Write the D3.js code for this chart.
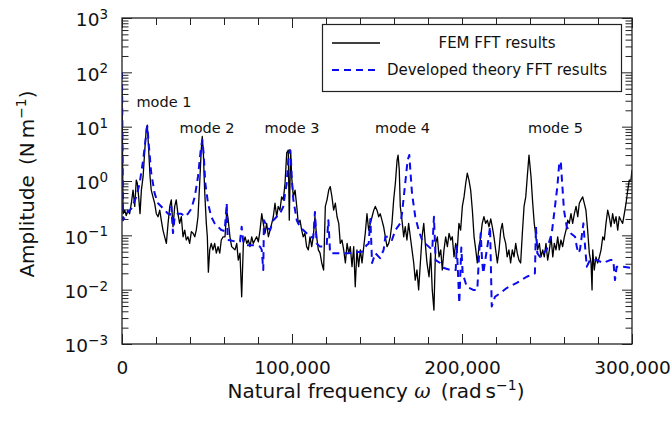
<!DOCTYPE html>
<html><head><meta charset="utf-8">
<script src="https://cdn.jsdelivr.net/npm/d3@7/dist/d3.min.js"></script>
<style>body{margin:0;background:#fff}svg{display:block}text{font-family:"DejaVu Sans",sans-serif;fill:#111}</style>
</head><body>
<svg id="c" width="671" height="424"></svg>
<script>
// ---- data (omega in rad/s, amplitude in N/m) ----
const femData = [[0,60],[600,0.25],[1600,0.29],[2500,0.23],[3500,0.29],[4500,0.25],[5500,0.39],[6500,0.68],[7500,0.34],[8400,1.04],[9000,0.91],[9800,0.51],[10600,0.25],[11400,0.68],[12400,1.2],[13400,3.7],[14300,9.3],[14900,10.7],[15700,3.7],[16500,1.2],[17200,0.68],[18200,0.51],[19200,0.39],[20200,0.25],[21200,0.22],[22200,0.29],[23100,0.19],[24100,0.125],[25100,0.094],[26100,0.071],[27100,0.166],[28100,0.34],[29000,0.45],[30000,0.144],[31000,0.34],[31900,0.45],[32900,0.25],[33900,0.166],[34900,0.22],[35900,0.094],[36900,0.125],[37800,0.082],[38800,0.094],[39800,0.071],[40800,0.117],[41800,0.109],[42800,0.094],[43700,0.125],[44700,0.22],[45700,0.91],[46600,3.7],[47200,6.6],[47800,3.7],[48600,0.68],[49600,0.166],[50200,0.094],[50800,0.021],[51600,0.054],[52500,0.071],[53500,0.054],[54500,0.071],[55500,0.047],[56500,0.062],[57500,0.047],[58400,0.082],[59500,0.094],[60600,0.094],[61600,0.29],[62500,0.19],[63500,0.094],[64500,0.062],[65500,0.058],[66500,0.054],[67500,0.071],[68400,0.035],[69400,0.047],[70400,0.0074],[71400,0.071],[72400,0.094],[73400,0.071],[74300,0.082],[75300,0.062],[76300,0.094],[77200,0.071],[78200,0.082],[79200,0.094],[80200,0.076],[81200,0.125],[82200,0.25],[83100,0.166],[84100,0.109],[85100,0.166],[86100,0.094],[87100,0.125],[88100,0.166],[89000,0.22],[90000,0.39],[91000,0.22],[91900,0.34],[92900,0.29],[93900,0.51],[94900,0.45],[95900,0.91],[96900,3.3],[97800,3.7],[98400,0.19],[99200,3.7],[99800,1.2],[100800,0.51],[101800,0.68],[102800,0.34],[103700,0.166],[104700,0.19],[105700,0.125],[106600,0.094],[107600,0.109],[108600,0.062],[109600,0.054],[110600,0.094],[111600,0.062],[112500,0.094],[113500,0.22],[114500,0.094],[115500,0.054],[116500,0.047],[117500,0.031],[118600,0.023],[119600,0.34],[120600,0.45],[121600,0.68],[122500,0.79],[123500,0.51],[124500,0.29],[125500,0.39],[126500,0.22],[127500,0.166],[128400,0.071],[129400,0.082],[130400,0.054],[131400,0.031],[132400,0.071],[133400,0.047],[134300,0.062],[135300,0.0265],[136300,0.062],[137200,0.0113],[138200,0.054],[139200,0.0265],[140200,0.054],[141200,0.031],[142200,0.062],[143100,0.109],[144100,0.25],[145100,0.125],[146100,0.166],[147100,0.22],[148100,0.29],[149000,0.34],[150000,0.29],[151000,0.22],[151900,0.25],[152900,0.19],[153900,0.144],[154900,0.094],[155900,0.062],[156900,0.071],[157800,0.094],[158800,0.166],[159800,0.45],[160800,0.91],[161800,2.4],[162400,3.0],[163100,1.6],[163700,0.34],[164700,0.19],[165700,0.094],[166600,0.144],[167600,0.082],[168600,0.166],[169600,0.094],[170600,0.054],[171600,0.031],[172500,0.015],[173500,0.023],[174500,0.0099],[175500,0.031],[176500,0.094],[177500,0.166],[178400,0.071],[179400,0.031],[180600,0.0173],[181600,0.047],[182500,0.0099],[183500,0.0042],[184500,0.071],[185500,0.094],[186500,0.040],[187500,0.054],[188400,0.023],[189400,0.054],[190400,0.094],[191400,0.062],[192400,0.109],[193400,0.082],[194300,0.094],[195300,0.040],[196300,0.071],[197200,0.054],[198200,0.166],[199200,0.125],[200200,0.34],[201200,0.51],[202200,0.91],[203100,1.39],[204100,1.04],[205100,0.68],[206100,0.29],[207100,0.094],[208100,0.054],[209000,0.031],[210000,0.062],[211000,0.094],[211900,0.166],[212900,0.22],[213900,0.166],[214900,0.19],[215900,0.144],[216900,0.2],[217800,0.144],[218800,0.094],[219800,0.054],[220800,0.031],[221800,0.054],[222800,0.125],[223700,0.166],[224700,0.094],[225700,0.071],[226600,0.040],[227600,0.054],[228600,0.031],[229600,0.054],[230600,0.040],[231600,0.071],[232500,0.047],[233500,0.035],[234500,0.031],[235500,0.109],[236500,0.34],[237500,0.51],[238400,1.2],[239400,3.0],[240600,1.2],[241600,0.39],[242500,0.166],[243500,0.094],[244500,0.054],[245500,0.071],[246500,0.040],[247500,0.054],[248400,0.040],[249400,0.071],[250400,0.035],[251400,0.054],[252400,0.094],[253400,0.040],[254300,0.071],[255300,0.054],[256300,0.094],[257200,0.054],[258200,0.082],[259200,0.062],[260200,0.094],[261200,0.125],[262200,0.19],[263100,0.166],[264100,0.25],[265100,0.166],[266100,0.25],[267100,0.34],[268100,0.22],[269000,0.39],[270000,0.45],[271000,0.51],[271900,0.39],[272900,0.29],[273900,0.125],[274900,0.047],[275900,0.031],[276500,0.0099],[276900,0.054],[277800,0.023],[278800,0.040],[279800,0.031],[280800,0.040],[281800,0.054],[282800,0.094],[283700,0.082],[284700,0.166],[285700,0.29],[286600,0.22],[287600,0.144],[288600,0.25],[289600,0.166],[290600,0.22],[291600,0.125],[292500,0.22],[293500,0.19],[294500,0.166],[295500,0.25],[296500,0.39],[297500,0.68],[298400,1.04],[299400,1.04],[300000,1.6]];

const theoryData = [[0,100],[600,0.19],[2500,0.25],[5500,0.31],[8400,0.51],[10400,0.91],[12400,2.4],[14300,7.5],[14900,10.2],[15700,4.9],[17200,1.39],[19200,0.59],[21200,0.39],[23100,0.34],[25100,0.29],[27100,0.25],[28200,0.24],[29000,0.34],[30000,0.11],[31000,0.22],[32900,0.25],[34900,0.25],[36900,0.22],[38800,0.25],[40800,0.31],[42800,0.51],[44700,1.2],[46300,3.7],[47200,5.7],[48000,3.3],[49000,0.91],[50600,0.39],[52500,0.22],[54500,0.166],[56500,0.144],[58400,0.125],[60400,0.12],[61600,0.39],[62200,0.082],[64500,0.08],[66500,0.077],[69400,0.077],[70400,0.144],[71400,0.071],[73400,0.066],[77200,0.066],[81200,0.062],[82200,0.054],[83100,0.023],[83500,0.19],[85100,0.144],[87100,0.125],[89000,0.19],[91000,0.22],[92900,0.25],[94900,0.34],[95900,0.59],[96900,0.91],[97800,2.4],[98800,3.7],[99400,2.4],[99800,1.2],[100800,0.45],[102800,0.19],[104700,0.144],[106600,0.125],[108600,0.109],[110600,0.094],[112500,0.09],[113500,0.27],[114500,0.071],[116500,0.062],[118400,0.062],[120400,0.066],[121400,0.19],[122400,0.047],[125500,0.047],[133400,0.047],[141200,0.05],[143900,0.066],[145100,0.07],[146100,0.2],[147100,0.031],[149000,0.047],[151800,0.038],[153900,0.054],[154900,0.094],[156900,0.094],[158800,0.082],[160800,0.125],[163700,0.166],[164700,0.25],[166600,0.91],[168000,2.4],[169000,3.0],[169600,1.6],[170600,0.59],[172500,0.22],[174500,0.125],[176500,0.082],[178400,0.071],[180400,0.062],[182500,0.054],[183500,0.22],[184500,0.035],[187100,0.031],[189400,0.025],[193400,0.023],[196300,0.023],[196900,0.062],[197400,0.03],[198400,0.0056],[199600,0.06],[200400,0.02],[202800,0.0113],[206600,0.0099],[209000,0.0099],[210200,0.054],[211000,0.109],[211800,0.035],[212500,0.02],[215500,0.082],[216500,0.144],[217500,0.0049],[219400,0.0074],[222400,0.0086],[226300,0.0107],[232200,0.0133],[238100,0.0173],[242900,0.02],[243500,0.144],[244300,0.047],[245900,0.04],[249800,0.054],[252800,0.109],[254700,0.34],[256100,0.79],[257200,2.1],[258100,2.3],[258800,1.04],[260000,0.29],[261600,0.144],[263900,0.109],[266500,0.094],[267500,0.062],[268400,0.047],[269400,0.054],[271400,0.166],[272400,0.062],[273400,0.0265],[275300,0.035],[279200,0.035],[283100,0.031],[287100,0.035],[289000,0.035],[290000,0.015],[291000,0.0265],[294900,0.0265],[300000,0.025]];

const xMajorTicks = [0, 100000, 200000, 300000];
const xMinorTicks = [20000,40000,60000,80000,120000,140000,160000,180000,220000,240000,260000,280000];
const yExponents = [-3,-2,-1,0,1,2,3];
const modeLabels = [
  {text:"mode 1", omega:24700, amp:23},
  {text:"mode 2", omega:50000, amp:7.6},
  {text:"mode 3", omega:100000, amp:7.6},
  {text:"mode 4", omega:165000, amp:7.6},
  {text:"mode 5", omega:255000, amp:7.6}
];
const legendLabels = ["FEM FFT results", "Developed theory FFT results"];

// ---- layout ----
const L = 122, R = 632, T = 18, B = 344;
const svg = d3.select("#c");
const x = d3.scaleLinear().domain([0, 300000]).range([L, R]);
const y = d3.scaleLog().domain([1e-3, 1e3]).range([B, T]);
const axisColor = "#222";
const blue = "#0a0af0";

svg.append("clipPath").attr("id","clip").append("rect")
  .attr("x", L).attr("y", T).attr("width", R-L).attr("height", B-T);

const yMinor = [];
yExponents.slice(0,-1).forEach(e => { for (let k=2;k<=9;k++) yMinor.push(k*Math.pow(10,e)); });
const yMajor = yExponents.map(e => Math.pow(10,e));

function styleAxis(g){ g.select(".domain").remove(); g.selectAll("line").attr("stroke", axisColor).attr("stroke-width",1); }

// x axes bottom/top
svg.append("g").attr("transform",`translate(0,${B})`)
  .call(d3.axisBottom(x).tickValues(xMinorTicks).tickSize(-7).tickFormat("")).call(styleAxis);
svg.append("g").attr("transform",`translate(0,${B})`)
  .call(d3.axisBottom(x).tickValues(xMajorTicks).tickSize(-10).tickPadding(17).tickFormat(d3.format(",")))
  .call(styleAxis)
  .call(g => g.selectAll("text").attr("font-size",18.5).attr("fill","#111").attr("font-family","DejaVu Sans"));
svg.append("g").attr("transform",`translate(0,${T})`)
  .call(d3.axisTop(x).tickValues(xMinorTicks).tickSize(-7).tickFormat("")).call(styleAxis);
svg.append("g").attr("transform",`translate(0,${T})`)
  .call(d3.axisTop(x).tickValues(xMajorTicks).tickSize(-10).tickFormat("")).call(styleAxis);

// y axes left/right
svg.append("g").attr("transform",`translate(${L},0)`)
  .call(d3.axisLeft(y).tickValues(yMinor).tickSize(-6.5).tickFormat("")).call(styleAxis);
svg.append("g").attr("transform",`translate(${L},0)`)
  .call(d3.axisLeft(y).tickValues(yMajor).tickSize(-10).tickPadding(14).tickFormat(""))
  .call(styleAxis)
  .call(g => g.selectAll(".tick text").each(function(d){
      const t = d3.select(this);
      const e = Math.round(Math.log10(d));
      t.attr("font-size",18.5).attr("fill","#111").attr("font-family","DejaVu Sans").attr("dy","0.42em");
      t.append("tspan").text("10");
      t.append("tspan").attr("font-size",13.5).attr("dy","-0.55em").text(e<0 ? "\u2212"+(-e) : String(e));
  }));
svg.append("g").attr("transform",`translate(${R},0)`)
  .call(d3.axisRight(y).tickValues(yMinor).tickSize(-6.5).tickFormat("")).call(styleAxis);
svg.append("g").attr("transform",`translate(${R},0)`)
  .call(d3.axisRight(y).tickValues(yMajor).tickSize(-10).tickFormat("")).call(styleAxis);

// lines
const line = d3.line().x(d => x(d[0])).y(d => y(d[1]));
const plot = svg.append("g").attr("clip-path","url(#clip)");
plot.append("path").datum(femData).attr("d", line)
  .attr("fill","none").attr("stroke","#000").attr("stroke-width",1.3).attr("stroke-linejoin","round");
plot.append("path").datum(theoryData).attr("d", line)
  .attr("fill","none").attr("stroke",blue).attr("stroke-width",2).attr("stroke-dasharray","7,5").attr("stroke-linejoin","round");

// frame
svg.append("rect").attr("x",L).attr("y",T).attr("width",R-L).attr("height",B-T)
  .attr("fill","none").attr("stroke",axisColor).attr("stroke-width",1.3);

// mode labels
svg.append("g").selectAll("text").data(modeLabels).join("text")
  .attr("x", d => x(d.omega)).attr("y", d => y(d.amp))
  .attr("text-anchor","middle").attr("font-size",14.5).text(d => d.text);

// legend
const lg = svg.append("g");
lg.append("rect").attr("x",322.5).attr("y",24.5).attr("width",299).attr("height",67)
  .attr("fill","#fff").attr("stroke",axisColor).attr("stroke-width",1.2);
lg.append("line").attr("x1",332).attr("x2",380).attr("y1",43).attr("y2",43)
  .attr("stroke","#000").attr("stroke-width",1.3);
lg.append("line").attr("x1",332).attr("x2",380).attr("y1",70).attr("y2",70)
  .attr("stroke",blue).attr("stroke-width",2).attr("stroke-dasharray","7,5");
lg.selectAll("text").data(legendLabels).join("text")
  .attr("x",497).attr("y",(d,i)=> i===0 ? 48 : 75).attr("text-anchor","middle")
  .attr("font-size",15).text(d => d);

// axis titles
const xt = svg.append("text").attr("x",376).attr("y",398).attr("text-anchor","middle").attr("font-size",20);
xt.append("tspan").text("Natural frequency ");
xt.append("tspan").attr("font-style","italic").attr("font-family","DejaVu Serif").text("ω");
xt.append("tspan").text("\u2002(rad\u2009s");
xt.append("tspan").attr("font-size",14).attr("dy",-8).text("\u22121");
xt.append("tspan").attr("dy",8).text(")");

const yt = svg.append("text").attr("transform","translate(34,184) rotate(-90)").attr("text-anchor","middle").attr("font-size",20);
yt.append("tspan").text("Amplitude\u2002(N\u2009m");
yt.append("tspan").attr("font-size",14).attr("dy",-8).text("\u22121");
yt.append("tspan").attr("dy",8).text(")");
</script>
</body></html>
